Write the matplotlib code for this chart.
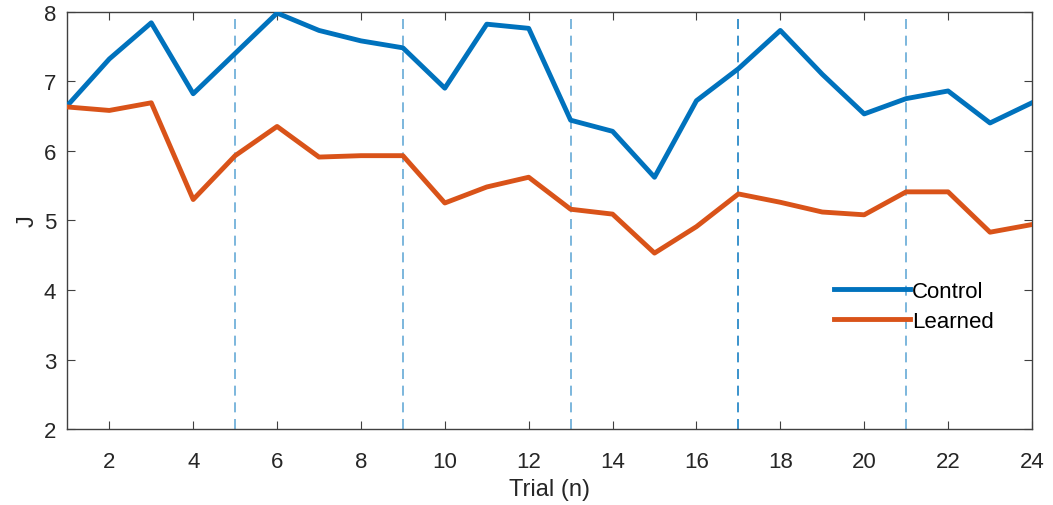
import numpy as np
import matplotlib.pyplot as plt

plt.rcParams['font.family'] = ['Liberation Sans', 'DejaVu Sans']

trials = np.arange(1, 25)
control = [6.65, 7.32, 7.84, 6.82, 7.40, 7.98, 7.73, 7.58, 7.48, 6.90, 7.82, 7.76,
           6.44, 6.28, 5.62, 6.72, 7.18, 7.73, 7.10, 6.53, 6.75, 6.86, 6.40, 6.69]
learned = [6.63, 6.58, 6.69, 5.30, 5.93, 6.35, 5.91, 5.93, 5.93, 5.25, 5.48, 5.62,
           5.16, 5.09, 4.53, 4.91, 5.38, 5.26, 5.12, 5.08, 5.41, 5.41, 4.83, 4.94]
block_starts = [5, 9, 13, 17, 21]

fig = plt.figure(figsize=(10.53, 5.06), dpi=100)
ax = fig.add_axes([0.064, 0.15, 0.916, 0.825])

for b in block_starts:
    a = 0.9 if b == 17 else 0.6
    ax.axvline(b, color='#0072BD', lw=1.2, ls=(0, (6, 4)), alpha=a, zorder=1)

ax.plot(trials, control, color='#0072BD', lw=3.5, label='Control', zorder=3)
ax.plot(trials, learned, color='#D95319', lw=3.5, label='Learned', zorder=3)

ax.set_xlim(1, 24)
ax.set_ylim(2, 8)
ax.set_xticks(np.arange(2, 25, 2))
ax.set_yticks(np.arange(2, 9, 1))
ax.tick_params(direction='in', top=True, right=True, labelsize=16, length=6,
               color='#404040', labelcolor='#262626', pad=8)
ax.tick_params(axis='x', pad=16)
for s in ax.spines.values():
    s.set_color('#404040')
    s.set_linewidth(1)
ax.set_xlabel('Trial (n)', fontsize=17, color='#262626', labelpad=4)
ax.set_ylabel('J', fontsize=17, color='#262626')

ax.legend(loc='upper left', bbox_to_anchor=(0.795, 0.355), frameon=False,
          fontsize=16, handlelength=3.4, handletextpad=0.1, labelspacing=0.42,
          borderaxespad=0, borderpad=0)

fig.savefig('out.png', dpi=100)
